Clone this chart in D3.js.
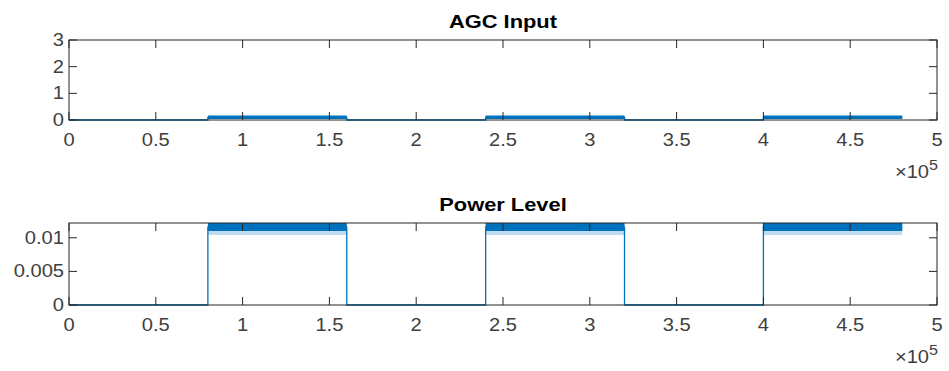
<!DOCTYPE html>
<html>
<head>
<meta charset="utf-8">
<script src="https://cdn.jsdelivr.net/npm/d3@7/dist/d3.min.js"></script>
<style>
  html, body { margin: 0; padding: 0; background: #ffffff; }
  svg { display: block; }
  text { font-family: "Liberation Sans", Arial, Helvetica, sans-serif; }
</style>
</head>
<body>
<svg id="chart" width="949" height="371"></svg>
<script>
// Sample index axis, in units of 1e5 samples
const xTicks = [0, 0.5, 1, 1.5, 2, 2.5, 3, 3.5, 4, 4.5, 5];
const xTickLabels = ["0", "0.5", "1", "1.5", "2", "2.5", "3", "3.5", "4", "4.5", "5"];

// Burst segments (start / end sample, x1e5)
const segStart = [0, 0.8, 1.6, 2.4, 3.2, 4.0];
const segEnd   = [0.8, 1.6, 2.4, 3.2, 4.0, 4.8];

// AGC input magnitude per segment: centre level and spread of the noise
const agcLevel = [0, 0.10, 0, 0.10, 0, 0.10];
const agcLow   = [0, 0.04, 0, 0.04, 0, 0.04];
const agcHigh  = [0.01, 0.17, 0.01, 0.17, 0.01, 0.17];
const agcTicks = [0, 1, 2, 3];

// Measured power level per segment
const powLevel = [0, 0.0116, 0, 0.0116, 0, 0.0116];
const powLow   = [0, 0.0110, 0, 0.0110, 0, 0.0110];
const powHigh  = [0.00005, 0.0122, 0.00005, 0.0122, 0.00005, 0.0122];
const powDip   = [0, 0.0104, 0, 0.0104, 0, 0.0104];
const powTicks = [0, 0.005, 0.01];
const powTickLabels = ["0", "0.005", "0.01"];

const svg = d3.select("#chart");
const axisColor = "#262626";
const labelColor = "#404040";
const lineColor = "#0072BD";
const left = 69, right = 937;
const sx = 1.15; // horizontal text stretch

const x = d3.scaleLinear().domain([0, 5]).range([left, right]);

function panel(opts) {
  const { top, bottom, yMax, yTicks, yLabels, title, level, low, high, dip } = opts;
  const y = d3.scaleLinear().domain([0, yMax]).range([bottom, top]);
  const g = svg.append("g");
  const clipId = "clip" + Math.round(top);
  svg.append("clipPath").attr("id", clipId)
    .append("rect").attr("x", left).attr("y", top - 0.5)
    .attr("width", right - left).attr("height", bottom - top + 2);

  const plot = g.append("g").attr("clip-path", `url(#${clipId})`);

  const idx = d3.range(segStart.length);
  const area = d3.area().x(d => x(d[0])).y0(d => y(d[1])).y1(d => y(d[2]));

  // faint dips below the noise band
  if (dip) {
    idx.forEach(i => {
      plot.append("path")
        .datum([[segStart[i], dip[i], high[i]], [segEnd[i], dip[i], high[i]]])
        .attr("d", area).attr("fill", lineColor).attr("opacity", 0.25);
    });
  }
  // noise band of each segment
  idx.forEach(i => {
    plot.append("path")
      .datum([[segStart[i], low[i], high[i]], [segEnd[i], low[i], high[i]]])
      .attr("d", area).attr("fill", lineColor);
  });
  // step trace joining the segments
  const pts = [];
  idx.forEach(i => { pts.push([segStart[i], level[i]]); pts.push([segEnd[i], level[i]]); });
  plot.append("path").datum(pts)
    .attr("d", d3.line().x(d => x(d[0])).y(d => y(d[1])))
    .attr("fill", "none").attr("stroke", lineColor).attr("stroke-width", 1.3);

  // box
  g.append("rect").attr("x", left).attr("y", top)
    .attr("width", right - left).attr("height", bottom - top)
    .attr("fill", "none").attr("stroke", axisColor).attr("stroke-width", 1);

  const tl = 8;
  // x ticks (bottom and top, pointing inward)
  xTicks.forEach(t => {
    g.append("line").attr("x1", x(t)).attr("x2", x(t)).attr("y1", bottom).attr("y2", bottom - tl)
      .attr("stroke", axisColor);
    g.append("line").attr("x1", x(t)).attr("x2", x(t)).attr("y1", top).attr("y2", top + tl)
      .attr("stroke", axisColor);
  });
  // y ticks (left and right)
  yTicks.forEach(t => {
    g.append("line").attr("x1", left).attr("x2", left + tl).attr("y1", y(t)).attr("y2", y(t))
      .attr("stroke", axisColor);
    g.append("line").attr("x1", right).attr("x2", right - tl).attr("y1", y(t)).attr("y2", y(t))
      .attr("stroke", axisColor);
  });

  // x tick labels
  xTicks.forEach((t, i) => {
    g.append("text")
      .attr("transform", `translate(${x(t)},${bottom + 26}) scale(${sx},1)`)
      .attr("text-anchor", "middle").attr("font-size", 17.5).attr("fill", labelColor)
      .text(xTickLabels[i]);
  });
  // y tick labels
  yTicks.forEach((t, i) => {
    g.append("text")
      .attr("transform", `translate(${left - 5},${y(t) + 6}) scale(${sx},1)`)
      .attr("text-anchor", "end").attr("font-size", 17.5).attr("fill", labelColor)
      .text(yLabels[i]);
  });

  // exponent label
  const ex = g.append("text")
    .attr("transform", `translate(${right + 1},${bottom + 58}) scale(${sx},1)`)
    .attr("text-anchor", "end").attr("font-size", 17.5).attr("fill", labelColor);
  ex.append("tspan").text("\u00d710");
  ex.append("tspan").attr("dy", -8).attr("font-size", 14).text("5");

  // title
  g.append("text")
    .attr("transform", `translate(${(left + right) / 2},${top - 12}) scale(${sx},1)`)
    .attr("text-anchor", "middle").attr("font-size", 19).attr("font-weight", "bold")
    .attr("fill", "#000").text(title);
}

panel({
  top: 40, bottom: 120, yMax: 3, yTicks: agcTicks, yLabels: agcTicks.map(String),
  title: "AGC Input", level: agcLevel, low: agcLow, high: agcHigh, dip: null
});

panel({
  top: 223, bottom: 305, yMax: 0.0122, yTicks: powTicks, yLabels: powTickLabels,
  title: "Power Level", level: powLevel, low: powLow, high: powHigh, dip: powDip
});
</script>
</body>
</html>
